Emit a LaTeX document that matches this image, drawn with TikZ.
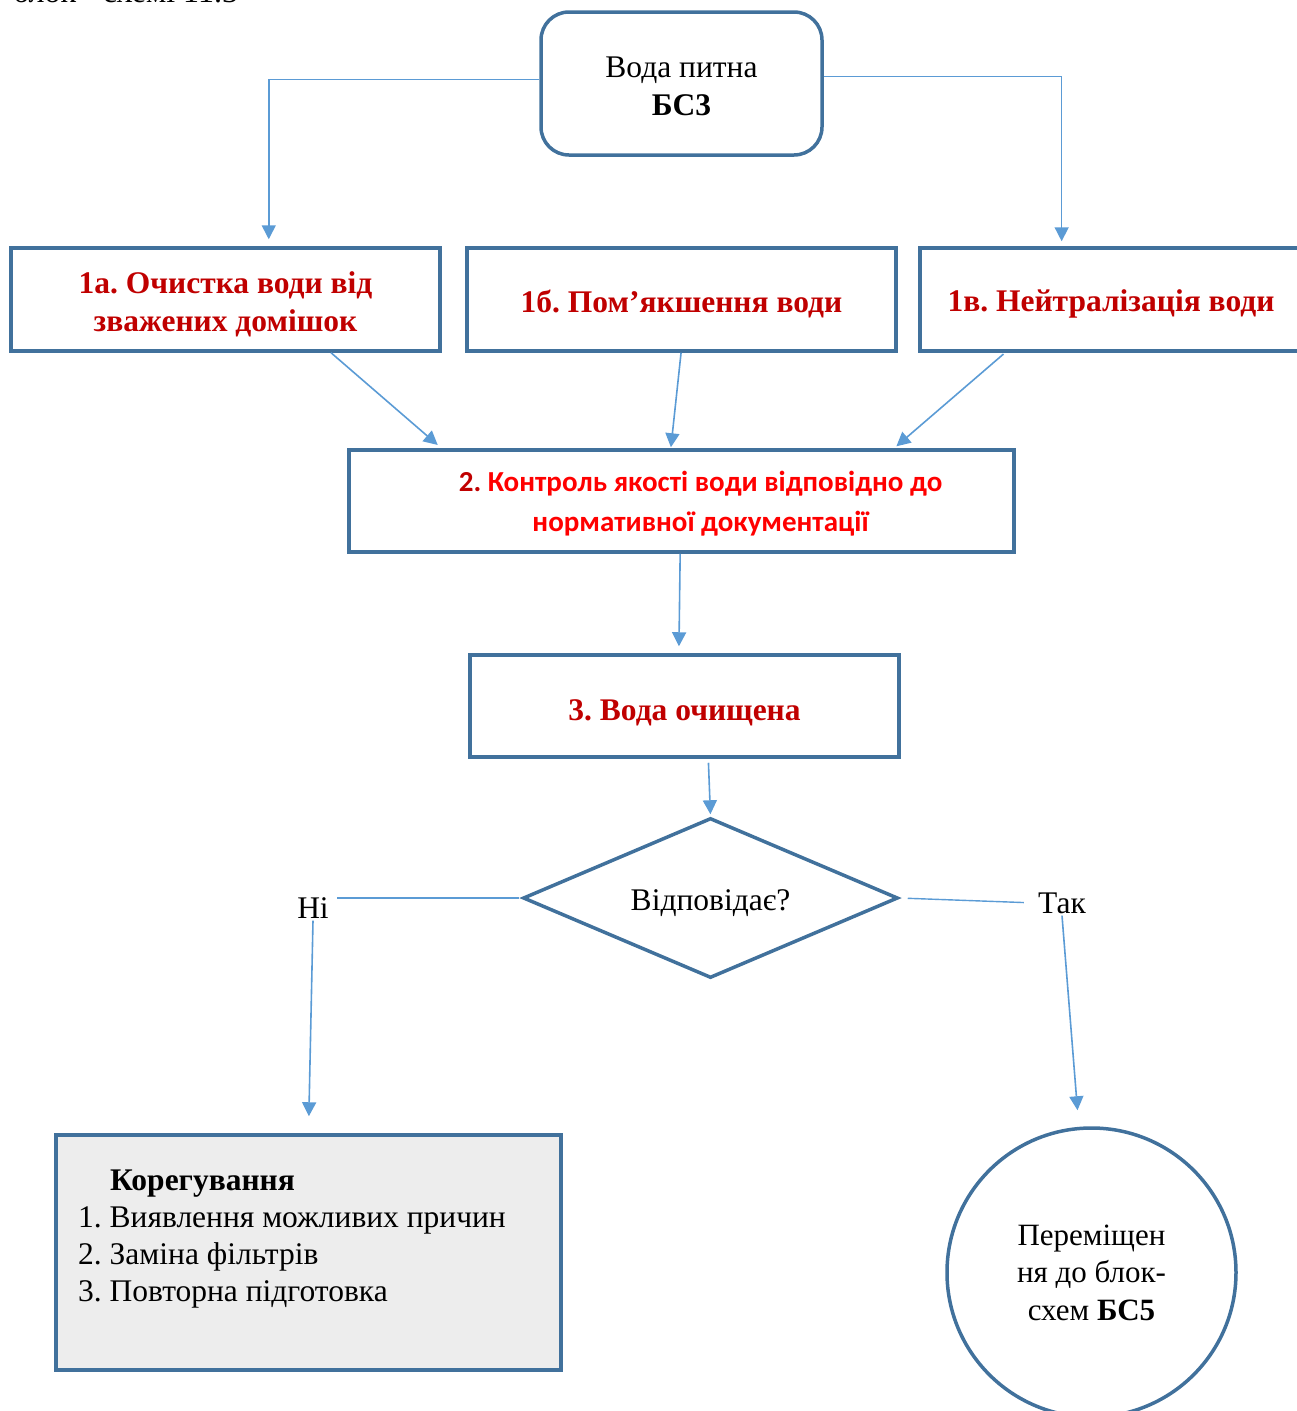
\documentclass[tikz,border=0pt]{standalone}
\usepackage{fontspec}
\setmainfont{Liberation Serif}
\newfontfamily\calibfont{Carlito}
\usetikzlibrary{shapes.geometric,arrows.meta,calc}
\definecolor{boxblue}{HTML}{41719C}
\definecolor{arrowblue}{HTML}{5B9BD5}
\definecolor{darkred}{HTML}{C00000}
\definecolor{brightred}{HTML}{FF0000}
\definecolor{korfill}{HTML}{EDEDED}
\frenchspacing
\newcommand\myup[1]{\rule{0pt}{#1pt}}
\begin{document}
\begin{tikzpicture}[x=1pt,y=-1pt,
  box/.style={draw=boxblue,line width=3.5pt,rectangle,inner sep=0pt,align=center},
  arr/.style={draw=arrowblue,line width=1.6pt,-{Triangle[length=14pt,width=14pt]}},
  ln/.style={draw=arrowblue,line width=1.4pt},
  redtxt/.style={text=darkred,font=\fontsize{31.5}{38}\selectfont\bfseries},
  plain/.style={font=\fontsize{31.5}{38}\selectfont}
]
\useasboundingbox (0,0) rectangle (1296,1411);
\node[anchor=base west,font=\fontsize{32}{38}\selectfont,inner sep=0pt] (frag) at (13,2) {блок - схемі 11.3};

\node[box,rounded corners=28pt,minimum width=281pt,minimum height=143pt,plain] (top) at (681.5,83.5) {\myup{26}Вода питна\\\textbf{БС3}};

\node[box,minimum width=429pt,minimum height=103pt,redtxt] (a) at (225.5,299.5) {\myup{31.5}1а. Очистка води від\\зважених домішок};
\node[box,minimum width=429pt,minimum height=103pt,redtxt] (b) at (681.5,299.5) {\myup{30.5}1б. Пом’якшення води};
\node[box,minimum width=382pt,minimum height=103pt,redtxt] (c) at (1111,299.5) {\myup{31.5}1в. Нейтралізація води};

\node[box,minimum width=665pt,minimum height=102pt,font=\calibfont\fontsize{29}{40}\selectfont\bfseries] (d) at (681.5,501)
  {\myup{26}\hspace*{38pt}\textcolor{darkred}{2.} \textcolor{brightred}{Контроль якості води відповідно до}\\\hspace*{38pt}\textcolor{brightred}{нормативної документації}};

\node[box,minimum width=429pt,minimum height=102pt,redtxt] (e) at (684.5,706) {\myup{33.5}3. Вода очищена};

\node[draw=boxblue,line width=3.5pt,diamond,aspect=2.34,minimum width=375pt,minimum height=160pt,inner sep=0pt,plain] (f) at (710.5,898) {\myup{32}Відповідає?};

\node[plain,inner sep=2pt] (no) at (313,908) {Ні};
\node[plain,inner sep=2pt] (yes) at (1062,903) {Так};

\node[box,fill=korfill,minimum width=505pt,minimum height=235pt] (g) at (308.5,1252.5) {};
\node[anchor=north west,align=left,inner sep=0pt,font=\fontsize{31.5}{37}\selectfont] (gt) at (78,1170)
  {\hspace*{32pt}\textbf{Корегування}\\1. Виявлення можливих причин\\2. Заміна фільтрів\\3. Повторна підготовка};

\node[draw=boxblue,line width=3.5pt,circle,minimum size=289pt,inner sep=0pt,align=center,font=\fontsize{31}{37.5}\selectfont] (h) at (1091.5,1272.5)
  {Переміщен\\ня до блок-\\схем \textbf{БС5}};

% connectors
\draw[arr,shorten >=7pt] ([yshift=4pt]top.west) -| ($(a.north west)!0.6!(a.north east)$);
\draw[arr,shorten >=5pt] ([yshift=7pt]top.east) -| ($(c.north west)!0.372!(c.north east)$);

\draw[arr,shorten >=5pt] ($(a.south west)!0.744!(a.south east)$) -- ($(d.north west)!0.141!(d.north east)$);
\draw[arr,shorten >=1pt] ($(b.south west)!0.499!(b.south east)$) -- ($(d.north west)!0.484!(d.north east)$);
\draw[arr,shorten <=2pt,shorten >=3pt] ($(c.south west)!0.225!(c.south east)$) -- ($(d.north west)!0.818!(d.north east)$);

\draw[arr,shorten >=7pt] ($(d.south west)!0.498!(d.south east)$) -- ($(e.north west)!0.487!(e.north east)$);
\draw[arr,shorten <=4pt,shorten >=2pt] ($(e.south west)!0.555!(e.south east)$) -- (f.north);

\draw[ln,shorten <=2pt,shorten >=6pt] (f.west) -- (f.west -| no.east);
\draw[arr,shorten >=17pt] (no.south) -- (g.north);

\draw[ln,shorten <=8pt,shorten >=12pt] (f.east) -- (yes.west);
\coordinate (hin) at ($(h.north)+(-14,-16)$);
\draw[arr] (yes.south) -- (hin);
\end{tikzpicture}
\end{document}
